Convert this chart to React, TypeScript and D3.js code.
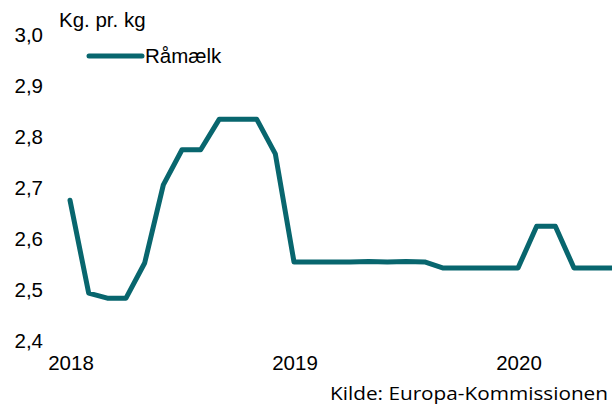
import React from "react";
import * as d3 from "d3";

// monthly milk price, Jan 2018 - Jun 2020
const values = [
  2.676, 2.494, 2.484, 2.484, 2.553, 2.706, 2.775, 2.775, 2.835, 2.835, 2.835, 2.767,
  2.555, 2.555, 2.555, 2.555, 2.556, 2.555, 2.556, 2.555, 2.543, 2.543, 2.543, 2.543,
  2.543, 2.625, 2.625, 2.543, 2.543, 2.543,
];
const yearLabels = ["2018", "2019", "2020"];
const yTicks = [2.4, 2.5, 2.6, 2.7, 2.8, 2.9, 3.0];

const W = 612;
const H = 407;
const color = "#08666E";

const App = () => {
  const x = d3.scaleLinear().domain([0, 24]).range([70, 518]);
  const y = d3.scaleLinear().domain([2.4, 3.0]).range([341, 35]);

  const line = d3
    .line<number>()
    .x((_, i) => x(i))
    .y((d) => y(d));

  const fmt = (v: number) => v.toFixed(1).replace(".", ",");

  return (
    <svg
      width={W}
      height={H}
      style={{ position: "absolute", left: 0, top: 0 }}
      fontFamily="Liberation Sans, Arial, sans-serif"
    >
      <rect width={W} height={H} fill="#fff" />
      {yTicks.map((t) => (
        <text key={t} x={43} y={y(t)} dy="0.35em" textAnchor="end" fontSize={20.5} fill="#000">
          {fmt(t)}
        </text>
      ))}
      {yearLabels.map((l, i) => (
        <text key={l} x={x(i * 12) + 1} y={370} textAnchor="middle" fontSize={20.5} fill="#000">
          {l}
        </text>
      ))}
      <text x={59} y={27} fontSize={20.5} fill="#000">Kg. pr. kg</text>
      <line x1={89} x2={142} y1={56} y2={56} stroke={color} strokeWidth={5} strokeLinecap="round" />
      <text x={145} y={56} dy="0.35em" fontSize={20.5} fill="#000">Råmælk</text>
      <path d={line(values) ?? ""} fill="none" stroke={color} strokeWidth={5} strokeLinejoin="round" strokeLinecap="round" />
      <text
        x={608}
        y={400}
        textAnchor="end"
        fontSize={18}
        fontFamily="Open Sans, sans-serif"
        textLength={278}
        lengthAdjust="spacingAndGlyphs"
        fill="#000"
      >
        Kilde: Europa-Kommissionen
      </text>
    </svg>
  );
};

export default App;
